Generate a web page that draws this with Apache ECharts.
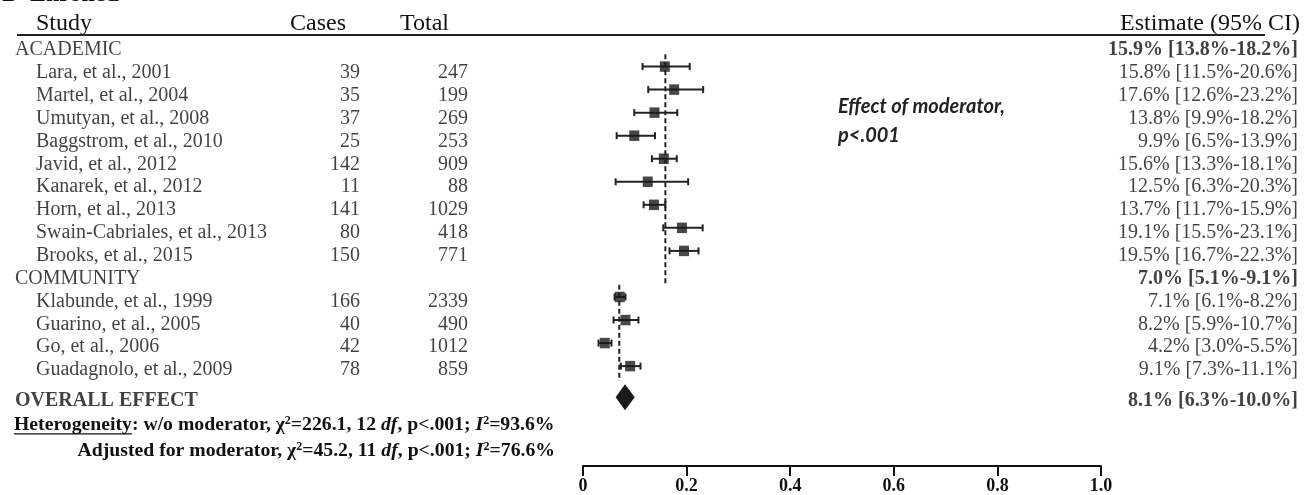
<!DOCTYPE html>
<html><head><meta charset="utf-8">
<script src="https://cdn.jsdelivr.net/npm/echarts@6/dist/echarts.min.js"></script>
<style>html,body{margin:0;padding:0;background:#fff}#c{width:1305px;height:495px}</style>
</head><body><div id="c"></div>
<script>
// ---------------- data ----------------
const figureLetter = "B";
const figureTitle = "Enrolled";
const headers = ["Study", "Cases", "Total", "Estimate (95% CI)"];
const groupNames = ["ACADEMIC", "COMMUNITY"];
const groupEst = [15.9, 7.0];
const groupLo = [13.8, 5.1];
const groupHi = [18.2, 9.1];
const studyNames = ["Lara, et al., 2001", "Martel, et al., 2004", "Umutyan, et al., 2008", "Baggstrom, et al., 2010", "Javid, et al., 2012", "Kanarek, et al., 2012", "Horn, et al., 2013", "Swain-Cabriales, et al., 2013", "Brooks, et al., 2015", "Klabunde, et al., 1999", "Guarino, et al., 2005", "Go, et al., 2006", "Guadagnolo, et al., 2009"];
const studyGroup = [0, 0, 0, 0, 0, 0, 0, 0, 0, 1, 1, 1, 1];
const cases = [39, 35, 37, 25, 142, 11, 141, 80, 150, 166, 40, 42, 78];
const totals = [247, 199, 269, 253, 909, 88, 1029, 418, 771, 2339, 490, 1012, 859];
const est = [15.8, 17.6, 13.8, 9.9, 15.6, 12.5, 13.7, 19.1, 19.5, 7.1, 8.2, 4.2, 9.1];
const lo = [11.5, 12.6, 9.9, 6.5, 13.3, 6.3, 11.7, 15.5, 16.7, 6.1, 5.9, 3.0, 7.3];
const hi = [20.6, 23.2, 18.2, 13.9, 18.1, 20.3, 15.9, 23.1, 22.3, 8.2, 10.7, 5.5, 11.1];
const overallName = "OVERALL EFFECT";
const overallEst = 8.1, overallLo = 6.3, overallHi = 10.0;
const tickLabels = ["0", "0.2", "0.4", "0.6", "0.8", "1.0"];
const moderatorNote = ["Effect of moderator,", "p<.001"];
const hetLabels = ["w/o moderator", "Adjusted for moderator"];
const hetChi2 = ["226.1", "45.2"];
const hetDf = [12, 11];
const hetP = ["<.001", "<.001"];
const hetI2 = ["93.6", "76.6"];

// ---------------- layout ----------------
const SERIF = "'Liberation Serif','Times New Roman',serif";
const Y_MIN = -1.5, Y_MAX = 16;
const PLOT_ROW0 = 43.6, PLOT_ROW_H = 23.1;   // forest marks
const TEXT_ROW0 = 50, TEXT_ROW_H = 22.86;    // table text
const plotTop = PLOT_ROW0 + Y_MIN * PLOT_ROW_H, plotH = (Y_MAX - Y_MIN) * PLOT_ROW_H;
const textTop = TEXT_ROW0 + Y_MIN * TEXT_ROW_H, textH = (Y_MAX - Y_MIN) * TEXT_ROW_H;
const AXIS_Y = 467;
const PLOT_LEFT = 583, PLOT_W = 518;
const COL_GROUP = 15, COL_STUDY = 36, COL_CASES = 360, COL_TOTAL = 468, COL_EST = 1298;
const HDR_CASES = 290, HDR_TOTAL = 400, HDR_EST = 1300, HDR_Y = 24, HDR_FS = 24;
const FS = 20;
const INK = '#111';

// ---------------- rows ----------------
const rowsName = [], rowsCases = [], rowsTotal = [], rowsEst = [], groupRows = [];
const pts = [], cis = [];
const pct = v => v.toFixed(1) + '%';
const estStr = (e, l, h) => `${pct(e)} [${pct(l)}-${pct(h)}]`;
let r = 0;
const groupSpan = [];
groupNames.forEach((g, gi) => {
  const hIdx = r++;
  groupRows.push({ value: [0, hIdx], name: g });
  rowsEst.push({ value: [0, hIdx], name: estStr(groupEst[gi], groupLo[gi], groupHi[gi]), label: { fontWeight: 'bold' } });
  let last = hIdx;
  studyNames.forEach((s, si) => {
    if (studyGroup[si] !== gi) return;
    const idx = r++;
    last = idx;
    rowsName.push({ value: [0, idx], name: s });
    rowsCases.push({ value: [0, idx], name: String(cases[si]) });
    rowsTotal.push({ value: [0, idx], name: String(totals[si]) });
    rowsEst.push({ value: [0, idx], name: estStr(est[si], lo[si], hi[si]) });
    pts.push([est[si] / 100, idx]);
    cis.push([lo[si] / 100, hi[si] / 100, idx]);
  });
  groupSpan.push([hIdx, last]);
});
const overallIdx = r + 0.35;
groupRows.push({ value: [0, overallIdx], name: overallName, label: { fontWeight: 'bold' } });
rowsEst.push({ value: [0, overallIdx], name: estStr(overallEst, overallLo, overallHi), label: { fontWeight: 'bold' } });

// dashed reference lines per group
const dashSeries = groupNames.map((g, gi) => {
  const start = groupSpan[gi][0] + 0.47;
  const end = gi < groupNames.length - 1 ? groupSpan[gi + 1][0] + 0.47 : groupSpan[gi][1] + 0.65;
  return {
    type: 'line', xAxisIndex: 0, yAxisIndex: 0, symbol: 'none', silent: true,
    data: [[groupEst[gi] / 100, start], [groupEst[gi] / 100, end]],
    lineStyle: { color: '#222', width: 2, type: [5, 3] }, z: 1
  };
});

// ---------------- grids ----------------
const textCols = [
  { left: COL_GROUP, data: groupRows, pos: 'right' },
  { left: COL_STUDY, data: rowsName, pos: 'right' },
  { left: COL_CASES, data: rowsCases, pos: 'left' },
  { left: COL_TOTAL, data: rowsTotal, pos: 'left' },
  { left: COL_EST, data: rowsEst, pos: 'left' }
];
const grids = [{ left: PLOT_LEFT, width: PLOT_W, top: plotTop, height: plotH }];
const xAxes = [{
  type: 'value', gridIndex: 0, min: 0, max: 1, interval: 0.2,
  offset: AXIS_Y - (plotTop + plotH),
  axisLine: { show: true, onZero: false, lineStyle: { color: '#111', width: 2 } },
  axisTick: { show: true, inside: false, length: 10, lineStyle: { color: '#111', width: 2 } },
  axisLabel: { formatter: v => tickLabels[Math.round(v / 0.2)], fontFamily: SERIF, fontWeight: 'bold', fontSize: 18, color: INK, margin: 11 },
  splitLine: { show: false }
}];
const yAxes = [{ type: 'value', gridIndex: 0, min: Y_MIN, max: Y_MAX, inverse: true, show: false }];
const series = [];
textCols.forEach((c, i) => {
  const gi = i + 1;
  grids.push({ left: c.left, width: 1, top: textTop, height: textH });
  xAxes.push({ type: 'value', gridIndex: gi, min: 0, max: 1, show: false });
  yAxes.push({ type: 'value', gridIndex: gi, min: Y_MIN, max: Y_MAX, inverse: true, show: false });
  series.push({
    type: 'scatter', xAxisIndex: gi, yAxisIndex: gi, symbolSize: 0, silent: true, clip: false,
    data: c.data,
    label: { show: true, position: c.pos, distance: 0, formatter: p => p.name, fontFamily: SERIF, fontSize: FS, color: INK }
  });
});

series.push(...dashSeries);
series.push({
  type: 'custom', xAxisIndex: 0, yAxisIndex: 0, silent: true, z: 2,
  encode: { x: [0, 1], y: 2 },
  data: cis,
  renderItem: (params, api) => {
    const a = api.coord([api.value(0), api.value(2)]);
    const b = api.coord([api.value(1), api.value(2)]);
    const c = 3.5, st = { stroke: '#222', lineWidth: 2 };
    return { type: 'group', children: [
      { type: 'line', shape: { x1: a[0], y1: a[1], x2: b[0], y2: b[1] }, style: st },
      { type: 'line', shape: { x1: a[0], y1: a[1] - c, x2: a[0], y2: a[1] + c }, style: st },
      { type: 'line', shape: { x1: b[0], y1: b[1] - c, x2: b[0], y2: b[1] + c }, style: st }
    ] };
  }
});
series.push({
  type: 'scatter', xAxisIndex: 0, yAxisIndex: 0, silent: true, z: 3,
  symbol: 'rect', symbolSize: [10, 10.5], itemStyle: { color: '#1a1a1a' },
  data: pts
});
series.push({
  type: 'custom', xAxisIndex: 0, yAxisIndex: 0, silent: true, z: 3,
  encode: { x: [0, 1, 2], y: 3 },
  data: [[overallLo / 100, overallEst / 100, overallHi / 100, overallIdx]],
  renderItem: (params, api) => {
    const l = api.coord([api.value(0), api.value(3)]);
    const m = api.coord([api.value(1), api.value(3)]);
    const h = api.coord([api.value(2), api.value(3)]);
    const hh = 13;
    return { type: 'polygon', shape: { points: [[l[0], l[1]], [m[0], m[1] - hh], [h[0], h[1]], [m[0], m[1] + hh]] }, style: { fill: '#1a1a1a' } };
  }
});

// ---------------- heterogeneity text ----------------
const HET_LEFT = 14, HET_RIGHT = 555;
const cv = document.createElement('canvas').getContext('2d');
const mw = (t, font) => { cv.font = font; return cv.measureText(t).width; };
const partsFor = (fs, i, head) => {
  const fB = `bold ${fs}px ${SERIF}`, fI = `italic bold ${fs}px ${SERIF}`, fS = `bold ${Math.round(fs * 0.62)}px ${SERIF}`;
  return [
    [head ? `Heterogeneity: ${hetLabels[i]}, χ` : `${hetLabels[i]}, χ`, fB], ['2', fS], [`=${hetChi2[i]}, ${hetDf[i]} `, fB], ['df', fI],
    [`, p${hetP[i]}; `, fB], ['I', fI], ['2', fS], [`=${hetI2[i]}%`, fB]
  ];
};
const w16 = partsFor(16, 0, true).reduce((s, p) => s + mw(p[0], p[1]), 0);
const HET_FS = 16 * (HET_RIGHT - HET_LEFT) / w16;
const hetW = mw('Heterogeneity', `bold ${HET_FS}px ${SERIF}`);
const SUP = Math.round(HET_FS * 0.62);
const richHet = {
  b: { fontFamily: SERIF, fontWeight: 'bold', fontSize: HET_FS, lineHeight: 20, fill: INK },
  i: { fontFamily: SERIF, fontWeight: 'bold', fontStyle: 'italic', fontSize: HET_FS, lineHeight: 20, fill: INK },
  s: { fontFamily: SERIF, fontWeight: 'bold', fontSize: SUP, lineHeight: SUP + 1, verticalAlign: 'top', fill: INK }
};
const hetText = (i, withHead) => (withHead ? `{b|Heterogeneity}{b|: ${hetLabels[i]}, χ}` : `{b|${hetLabels[i]}, χ}`) +
  `{s|2}{b|=${hetChi2[i]}, ${hetDf[i]} }{i|df}{b|, p${hetP[i]}; }{i|I}{s|2}{b|=${hetI2[i]}%}`;
const HET_Y1 = 425, HET_Y2 = 451;

const NOTE_FONT = `italic bold 20px Lato, 'Open Sans', sans-serif`;
const graphic = [
  { type: 'text', style: { x: 2, y: 7, text: figureLetter, font: `bold 24px ${SERIF}`, fill: INK, verticalAlign: 'bottom' } },
  { type: 'text', style: { x: 30, y: 7, text: figureTitle, font: `bold 24px ${SERIF}`, fill: INK, verticalAlign: 'bottom' } },
  { type: 'text', style: { x: COL_STUDY, y: HDR_Y, text: headers[0], font: `${HDR_FS}px ${SERIF}`, fill: INK, verticalAlign: 'middle' } },
  { type: 'text', style: { x: HDR_CASES, y: HDR_Y, text: headers[1], font: `${HDR_FS}px ${SERIF}`, fill: INK, verticalAlign: 'middle' } },
  { type: 'text', style: { x: HDR_TOTAL, y: HDR_Y, text: headers[2], font: `${HDR_FS}px ${SERIF}`, fill: INK, verticalAlign: 'middle' } },
  { type: 'text', style: { x: HDR_EST, y: HDR_Y, text: headers[3], font: `${HDR_FS}px ${SERIF}`, fill: INK, verticalAlign: 'middle', align: 'right' } },
  { type: 'line', shape: { x1: 17, y1: 35, x2: 1265, y2: 35 }, style: { stroke: '#222', lineWidth: 2 } },
  { type: 'text', style: { x: 838, y: 107, text: moderatorNote[0], font: NOTE_FONT, fill: '#222', verticalAlign: 'middle' } },
  { type: 'text', style: { x: 838, y: 136, text: moderatorNote[1], font: NOTE_FONT, fill: '#222', verticalAlign: 'middle' } },
  { type: 'text', style: { x: HET_LEFT, y: HET_Y1, text: hetText(0, true), rich: richHet, verticalAlign: 'middle' } },
  { type: 'line', shape: { x1: HET_LEFT, y1: HET_Y1 + HET_FS * 0.45, x2: HET_LEFT + hetW, y2: HET_Y1 + HET_FS * 0.45 }, style: { stroke: INK, lineWidth: 1.4 } },
  { type: 'text', style: { x: HET_RIGHT, y: HET_Y2, text: hetText(1, false), rich: richHet, verticalAlign: 'middle', align: 'right' } }
];

const chart = echarts.init(document.getElementById('c'), null, { renderer: 'canvas' });
chart.setOption({
  animation: false,
  backgroundColor: '#fff',
  grid: grids, xAxis: xAxes, yAxis: yAxes, series, graphic
});
</script></body></html>
